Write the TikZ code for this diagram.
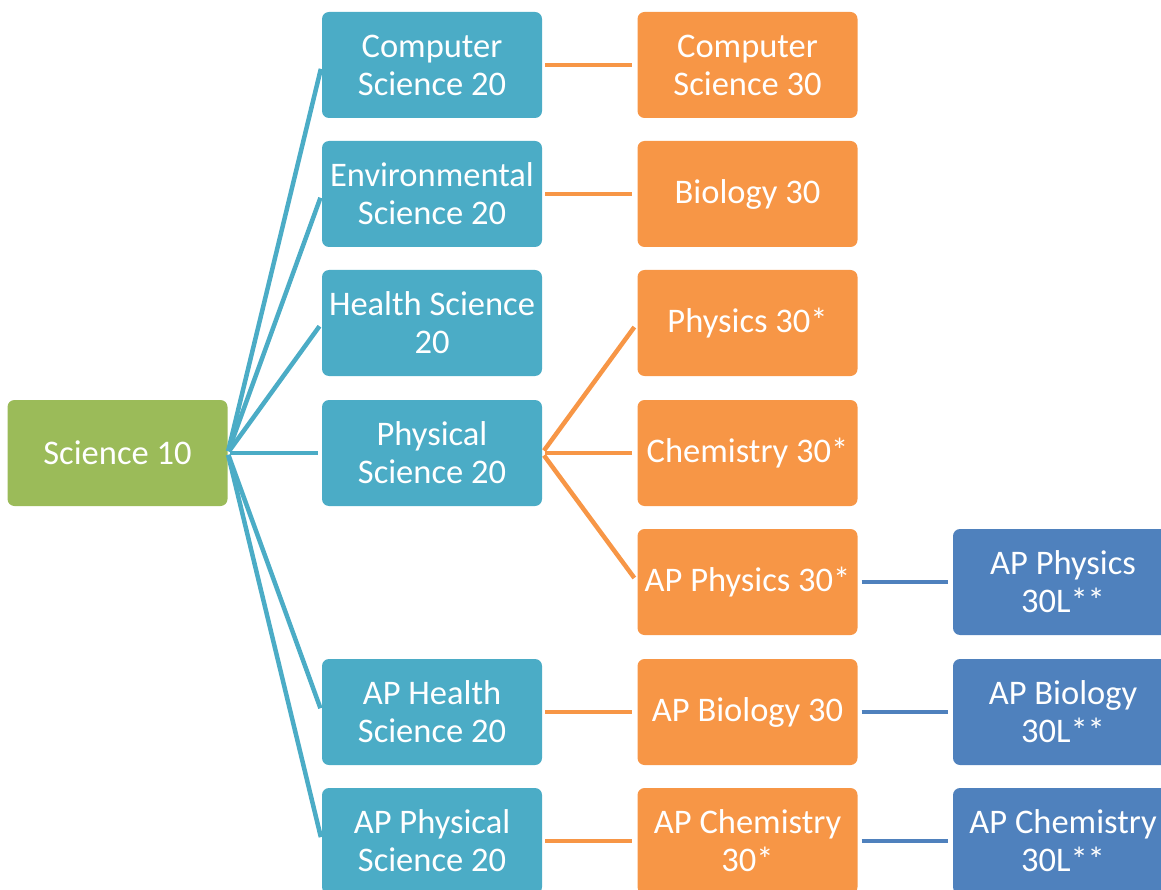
\documentclass[tikz,border=0pt]{standalone}
\usepackage{fontspec}
\setmainfont{Carlito}
\definecolor{cgreen}{HTML}{9BBB59}
\definecolor{cteal}{HTML}{4BACC6}
\definecolor{corange}{HTML}{F79646}
\definecolor{cblue}{HTML}{4F81BD}
\tikzset{
  box/.style={rounded corners=7pt, minimum width=220pt, minimum height=106pt, inner sep=0pt,
    text=white, align=center, font=\fontsize{34.5}{38}\selectfont},
  gbox/.style={box, fill=cgreen},
  tbox/.style={box, fill=cteal},
  obox/.style={box, fill=corange},
  bbox/.style={box, fill=cblue},
  tline/.style={draw=cteal, line width=4.5pt, shorten <=2pt, shorten >=4pt},
  oline/.style={draw=corange, line width=4.5pt, shorten <=3pt, shorten >=5pt},
  bline/.style={draw=cblue, line width=4.5pt, shorten <=4pt, shorten >=5pt},
}
\begin{document}
\begin{tikzpicture}[x=1pt,y=-1pt]
\useasboundingbox (0,0) rectangle (1161,890);
\clip (0,0) rectangle (1161,890);
\node[gbox] (s10) at (117.5,453) {Science 10};
\node[tbox] (cs20) at (432,65) {Computer\\Science 20};
\node[tbox] (es20) at (432,194) {Environmental\\Science 20};
\node[tbox] (hs20) at (432,323) {Health Science\\20};
\node[tbox] (ps20) at (432,453) {Physical\\Science 20};
\node[tbox] (aphs20) at (432,712) {AP Health\\Science 20};
\node[tbox] (apps20) at (432,841) {AP Physical\\Science 20};
\node[obox] (cs30) at (747.5,65) {Computer\\Science 30};
\node[obox] (bio30) at (747.5,194) {Biology 30};
\node[obox] (phy30) at (747.5,323) {Physics 30*};
\node[obox] (chem30) at (747.5,453) {Chemistry 30*};
\node[obox] (apphy30) at (747.5,582) {AP Physics 30*};
\node[obox] (apbio30) at (747.5,712) {AP Biology 30};
\node[obox] (apchem30) at (747.5,841) {AP Chemistry\\30*};
\node[bbox] (apphyL) at (1063,582) {AP Physics\\30L**};
\node[bbox] (apbioL) at (1063,712) {AP Biology\\30L**};
\node[bbox] (apchemL) at (1063,841) {AP Chemistry\\30L**};
\foreach \t in {cs20,es20,hs20,ps20,aphs20,apps20}
  \draw[tline] (s10.east) -- (\t.west);
\draw[oline] (cs20.east) -- (cs30.west);
\draw[oline] (es20.east) -- (bio30.west);
\foreach \t in {phy30,chem30,apphy30}
  \draw[oline] (ps20.east) -- (\t.west);
\draw[oline] (aphs20.east) -- (apbio30.west);
\draw[oline] (apps20.east) -- (apchem30.west);
\draw[bline] (apphy30.east) -- (apphyL.west);
\draw[bline] (apbio30.east) -- (apbioL.west);
\draw[bline] (apchem30.east) -- (apchemL.west);
\end{tikzpicture}
\end{document}
